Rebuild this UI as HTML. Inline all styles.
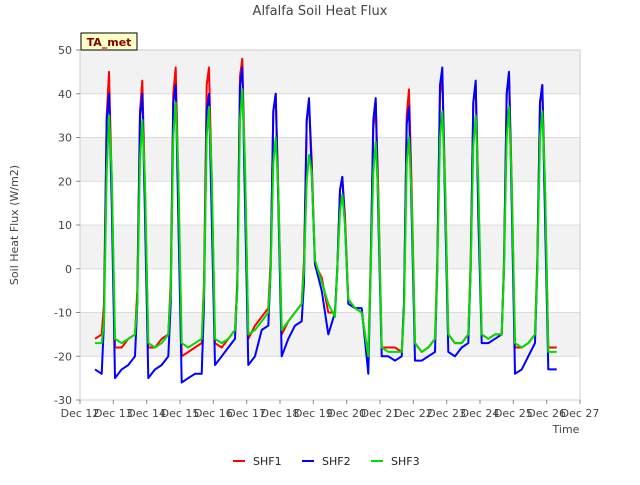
<!DOCTYPE html>
<html><head><meta charset="utf-8"><style>
body{margin:0;background:#fff;}
text{font-family:"DejaVu Sans","Liberation Sans",sans-serif;}
</style></head><body>
<svg id="chart" width="640" height="480" xmlns="http://www.w3.org/2000/svg">
<rect width="640" height="480" fill="#fff"/>
<g id="bands"></g>
<g id="grid"></g>
<rect x="80" y="50" width="500" height="350" fill="none" stroke="#ccc"/>
<g id="series"></g>
<g id="axes"></g>
<text x="320" y="15" text-anchor="middle" font-size="13" fill="#444">Alfalfa Soil Heat Flux</text>
<text transform="translate(18,225) rotate(-90)" text-anchor="middle" font-size="11" fill="#444">Soil Heat Flux (W/m2)</text>
<text x="566" y="433" text-anchor="middle" font-size="11" fill="#444">Time</text>
<g>
<rect x="81" y="33" width="56" height="17" fill="#ffffc8" stroke="#000"/>
<text x="109" y="46" text-anchor="middle" font-size="11" font-weight="bold" fill="#8b0000">TA_met</text>
</g>
<g id="legend"></g>
</svg>
<script>
const dayStarts=[12,13,14,15,16,17,18,19,20,21,22,23,24,25];
const offsets=[0.05,0.25,0.45,0.65,0.72,0.8,0.87,0.95];
const shf1=[
[null,null,-16,-15,-8,35,45,20],[-18,-18,-16,-15,-5,36,43,18],[-18,-18,-16,-15,-3,40,46,20],
[-20,-19,-18,-17,-3,42,46,20],[-17,-18,-16,-14,-3,44,48,22],[-16,-13,-11,-9,2,36,40,18],
[-15,-12,-10,-8,2,34,38,25],[1,-2,-10,-10,0,18,21,12],[-7,-9,-10,-20,2,32,38,18],
[-18,-18,-18,-19,-8,35,41,18],[-17,-19,-18,-16,2,40,44,20],[-15,-17,-17,-15,2,38,42,18],
[-15,-16,-15,-15,2,40,45,20],[-18,-18,-17,-15,2,38,42,18]];
const shf2=[
[null,null,-23,-24,-12,34,40,15],[-25,-23,-22,-20,-8,35,40,12],[-25,-23,-22,-20,-8,38,42,12],
[-26,-25,-24,-24,-8,36,40,12],[-22,-20,-18,-16,-4,42,46,15],[-22,-20,-14,-13,0,36,40,15],
[-20,-16,-13,-12,-3,34,39,22],[1,-5,-15,-10,0,18,21,10],[-8,-9,-9,-24,0,34,39,12],
[-20,-20,-21,-20,-8,33,37,12],[-21,-21,-20,-19,0,42,46,15],[-19,-20,-18,-17,0,38,43,12],
[-17,-17,-16,-15,0,40,45,15],[-24,-23,-20,-17,0,38,42,12]];
const shf3=[
[null,null,-17,-17,-12,22,35,22],[-16,-17,-16,-15,-8,25,34,20],[-17,-18,-17,-15,-5,30,38,22],
[-17,-18,-17,-16,-5,30,37,22],[-16,-17,-16,-14,-5,34,41,24],[-15,-14,-12,-10,0,24,30,18],
[-14,-12,-10,-8,0,20,26,22],[2,-3,-8,-11,0,13,17,10],[-7,-9,-10,-20,0,22,29,16],
[-18,-19,-19,-19,-10,24,30,16],[-17,-19,-18,-16,0,30,36,20],[-15,-17,-17,-15,0,28,35,20],
[-15,-16,-15,-15,0,30,37,20],[-17,-18,-17,-15,0,30,36,20]];
const endTimes=[26.05,26.3];
const endShf1=[-18,-18];
const endShf2=[-23,-23];
const endShf3=[-19,-19];
const yTicks=[-30,-20,-10,0,10,20,30,40,50];
const xTicks=[12,13,14,15,16,17,18,19,20,21,22,23,24,25,26,27];
const seriesNames=["SHF1","SHF2","SHF3"];
const seriesColors=["#ff0000","#0000ff","#00dd00"];

const NS="http://www.w3.org/2000/svg";
const xS=t=>80+(t-12)*500/15;
const yS=v=>400-(v+30)*350/80;
function mk(tag,attrs,parent){const e=document.createElementNS(NS,tag);for(const k in attrs)e.setAttribute(k,attrs[k]);parent.appendChild(e);return e;}
const bands=document.getElementById('bands'),grid=document.getElementById('grid'),axes=document.getElementById('axes');
for(let i=0;i<yTicks.length-1;i++){
  if((yTicks[i]+30)/10%2===1){
    const r=mk('rect',{x:80,y:yS(yTicks[i+1]),width:500,height:yS(yTicks[i])-yS(yTicks[i+1]),fill:'#f2f2f2'},bands);
    
    
  }
}
yTicks.forEach(v=>{
  const l=mk('line',{x1:80,x2:580,y1:yS(v),y2:yS(v),stroke:'#dcdcdc'},grid);
  
  
  const t=mk('text',{x:72,y:yS(v)+4,'text-anchor':'end','font-size':11,fill:'#444'},axes);
  
  
  t.textContent=v;
  mk('line',{x1:76,x2:80,y1:yS(v),y2:yS(v),stroke:'#888'},axes);
});
xTicks.forEach(d=>{
  const t=mk('text',{x:xS(d),y:417,'text-anchor':'middle','font-size':11,fill:'#444'},axes);
  
  
  t.textContent='Dec '+d;
  mk('line',{x1:xS(d),x2:xS(d),y1:400,y2:404,stroke:'#888'},axes);
});
const sg=document.getElementById('series');
[[shf1,endShf1],[shf2,endShf2],[shf3,endShf3]].forEach((s,si)=>{
  const pts=[];
  s[0].forEach((day,di)=>day.forEach((v,oi)=>{if(v!==null)pts.push([xS(dayStarts[di]+offsets[oi]),yS(v)]);}));
  s[1].forEach((v,i)=>pts.push([xS(endTimes[i]),yS(v)]));
  const p=mk('polyline',{points:pts.map(p=>p[0].toFixed(1)+','+p[1].toFixed(1)).join(' '),fill:'none',stroke:seriesColors[si],'stroke-width':2,'stroke-linejoin':'round'},sg);
  
  
});
const lg=document.getElementById('legend');
const lx=[233,302,371];
seriesNames.forEach((n,i)=>{
  const l=mk('line',{x1:lx[i],x2:lx[i]+12,y1:461,y2:461,stroke:seriesColors[i],'stroke-width':2},lg);
  
  
  const t=mk('text',{x:lx[i]+20,y:465,'font-size':11,fill:'#222'},lg);
  
  
  t.textContent=n;
});
</script>
</body></html>
